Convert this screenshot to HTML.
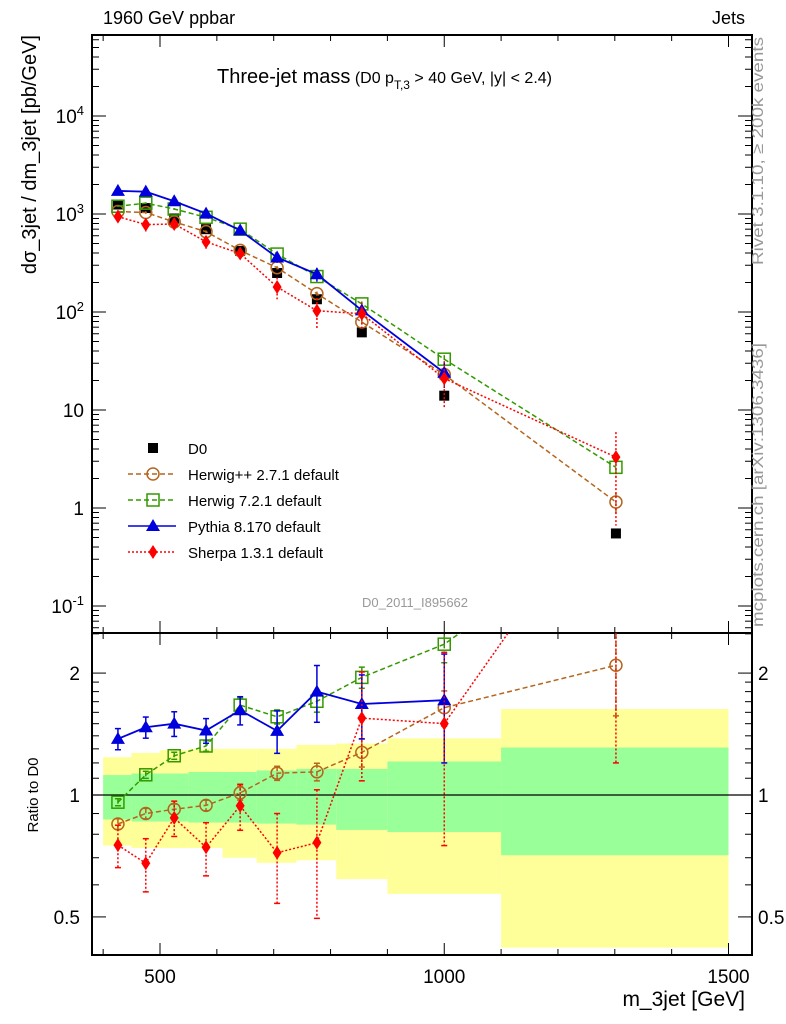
<!DOCTYPE html>
<html><head><meta charset="utf-8"><style>
body{margin:0;background:#fff}
svg{display:block;font-family:"Liberation Sans",sans-serif}
</style></head><body>
<svg id="c" width="786" height="1024" xmlns="http://www.w3.org/2000/svg"></svg>
<script>
const binEdges=[400,450,500,550,610,670,740,810,900,1100,1500];
const xPoints=[426,475,525,581,641,706,776,855,1000,1302];
const d0Vals=[1250,1150,900,700,420,250,135,62,14,0.55];
const herwigppVals=[1060,1035,830,660,425,283,154,79,23,1.15];
const herwigppErr=[0.03,0.03,0.03,0.03,0.04,0.04,0.05,0.08,0.1,0.25];
const herwig7Vals=[1200,1290,1125,925,700,390,230,121,33,2.6];
const herwig7Err=[0.02,0.02,0.02,0.03,0.04,0.04,0.06,0.06,0.1,0.2];
const pythiaVals=[1720,1690,1350,1010,680,360,243,104,24];
const pythiaErr=[0.06,0.06,0.07,0.07,0.08,0.12,0.16,0.18,0.3];
const sherpaVals=[940,780,790,520,395,180,103,96,21,3.3];
const sherpaErr=[0.12,0.15,0.1,0.15,0.13,0.25,0.35,0.3,0.5,0.8];
const yellowHi=[1.24,1.27,1.29,1.3,1.3,1.3,1.33,1.34,1.38,1.63];
const yellowLo=[0.75,0.74,0.74,0.74,0.70,0.68,0.69,0.62,0.57,0.42];
const greenHi=[1.12,1.13,1.13,1.14,1.14,1.15,1.16,1.16,1.21,1.31];
const greenLo=[0.87,0.86,0.86,0.855,0.855,0.85,0.845,0.82,0.81,0.71];
const xTicks=[500,1000,1500];
const mainTicks=[4,3,2,1,0,-1];
const ratioTicks=[0.5,1,2];

const S=document.getElementById('c');const NS='http://www.w3.org/2000/svg';
function el(t,a,p){const e=document.createElementNS(NS,t);for(const k in a)e.setAttribute(k,a[k]);(p||S).appendChild(e);return e;}
const L=92,R=752,T=35,MB=633,RB=955;
const X=m=>160+(m-500)*0.5685;
const Y=v=>508-98*Math.log10(v);
const YR=r=>795-405*Math.log10(r);
const clipM=el('clipPath',{id:'cm'});el('rect',{x:L,y:T,width:R-L,height:MB-T},clipM);
const clipR=el('clipPath',{id:'cr'});el('rect',{x:L,y:MB,width:R-L,height:RB-MB},clipR);

const bands=el('g',{'clip-path':'url(#cr)'});

for(let i=0;i<binEdges.length-1;i++){
 const x0=X(binEdges[i]),x1=X(binEdges[i+1]);
 const y=el('rect',{x:x0,y:YR(yellowHi[i]),width:x1-x0,height:YR(yellowLo[i])-YR(yellowHi[i]),fill:'#ffff99'},bands);
 
 const g=el('rect',{x:x0,y:YR(greenHi[i]),width:x1-x0,height:YR(greenLo[i])-YR(greenHi[i]),fill:'#99ff99'},bands);
 
}
el('line',{x1:L,x2:R,y1:YR(1),y2:YR(1),stroke:'#000','stroke-width':1.2});

el('rect',{x:L,y:T,width:R-L,height:MB-T,fill:'none',stroke:'#000','stroke-width':2});
el('rect',{x:L,y:MB,width:R-L,height:RB-MB,fill:'none',stroke:'#000','stroke-width':2});

function txt(s,x,y,a,p){const t=el('text',Object.assign({x:x,y:y,'font-size':17},a||{}),p);t.textContent=s;return t;}
for(let m=400;m<=1500;m+=100){const big=m%500==0,len=big?12:6;
 for(const [yb,yt] of [[MB,T],[RB,MB]]){el('line',{x1:X(m),x2:X(m),y1:yb,y2:yb-len,stroke:'#000'});el('line',{x1:X(m),x2:X(m),y1:yt,y2:yt+len,stroke:'#000'});}}
xTicks.forEach(m=>{const t=txt(m,X(m),983,{'text-anchor':'middle','font-size':19});});
for(let d=-2;d<=4;d++)for(let k=1;k<10;k++){const v=k*Math.pow(10,d);const y=Y(v);if(y<T||y>MB)continue;const len=k==1?14:7;
 el('line',{x1:L,x2:L+len,y1:y,y2:y,stroke:'#000'});el('line',{x1:R,x2:R-len,y1:y,y2:y,stroke:'#000'});}
mainTicks.forEach(d=>{const y=Y(Math.pow(10,d));let t;
 if(d==1)t=txt('10',84,y+7,{'text-anchor':'end','font-size':19});
 else if(d==0)t=txt('1',84,y+7,{'text-anchor':'end','font-size':19});
 else{t=el('text',{x:84,y:y+7,'text-anchor':'end','font-size':19});t.innerHTML='10<tspan font-size="13" dy="-8">'+d+'</tspan>';}
 });
[0.4,0.5,0.6,0.7,0.8,0.9,1,1.1,1.2,1.3,1.4,1.5,1.6,1.7,1.8,1.9,2,2.5].forEach(r=>{const y=YR(r);if(y<MB||y>RB)return;const len=[0.5,1,2].includes(r)?14:7;
 el('line',{x1:L,x2:L+len,y1:y,y2:y,stroke:'#000'});el('line',{x1:R,x2:R-len,y1:y,y2:y,stroke:'#000'});});
ratioTicks.forEach(r=>{const y=YR(r)+7;
 const a=txt(r,80,y,{'text-anchor':'end','font-size':19});
 const b=txt(r,758,y,{'font-size':19});});

function marker(kind,x,y,col,p){
 if(kind=='sq')return el('rect',{x:x-5,y:y-5,width:10,height:10,fill:'#000'},p);
 if(kind=='osq')return el('rect',{x:x-6,y:y-6,width:12,height:12,fill:'none',stroke:col,'stroke-width':1.5},p);
 if(kind=='oc')return el('circle',{cx:x,cy:y,r:6,fill:'none',stroke:col,'stroke-width':1.5},p);
 if(kind=='tri')return el('path',{d:`M${x} ${y-7}L${x+7} ${y+5}L${x-7} ${y+5}Z`,fill:col},p);
 if(kind=='dia')return el('path',{d:`M${x} ${y-7}L${x+4.5} ${y}L${x} ${y+7}L${x-4.5} ${y}Z`,fill:col},p);
}
const series=[
 {n:'herwigpp',v:herwigppVals,e:herwigppErr,c:'#b5651d',k:'oc',d:'5,3',w:1.5,lab:'Herwig++ 2.7.1 default'},
 {n:'herwig7',v:herwig7Vals,e:herwig7Err,c:'#339900',k:'osq',d:'5,3',w:1.5,lab:'Herwig 7.2.1 default'},
 {n:'pythia',v:pythiaVals,e:pythiaErr,c:'#0000dd',k:'tri',d:'',w:1.8,lab:'Pythia 8.170 default'},
 {n:'sherpa',v:sherpaVals,e:sherpaErr,c:'#ff0000',k:'dia',d:'2,2',w:1.5,lab:'Sherpa 1.3.1 default'}];

const dg=el('g',{'clip-path':'url(#cm)'});
d0Vals.forEach((v,i)=>{const m=marker('sq',X(xPoints[i]),Y(v),'#000',dg);});

series.forEach(s=>{
 const gm=el('g',{'clip-path':'url(#cm)'});
 const gr=el('g',{'clip-path':'url(#cr)'});
 const pm=s.v.map((v,i)=>X(xPoints[i])+','+Y(v)).join(' ');
 const pr=s.v.map((v,i)=>X(xPoints[i])+','+YR(v/d0Vals[i])).join(' ');
 const a={fill:'none',stroke:s.c,'stroke-width':s.w};if(s.d)a['stroke-dasharray']=s.d;
 el('polyline',Object.assign({points:pm},a),gm);el('polyline',Object.assign({points:pr},a),gr);
 s.v.forEach((v,i)=>{const x=X(xPoints[i]);const r=v/d0Vals[i];
  const ea={stroke:s.c,'stroke-width':1.5};if(s.d)ea['stroke-dasharray']=s.d;
  el('line',Object.assign({x1:x,x2:x,y1:Y(v*(1+s.e[i])),y2:Y(v*Math.max(0.05,1-s.e[i]))},ea),gm);
  el('line',Object.assign({x1:x,x2:x,y1:YR(r*(1+s.e[i])),y2:YR(r*Math.max(0.05,1-s.e[i]))},ea),gr);
  el('line',{x1:x-3,x2:x+3,y1:YR(r*(1+s.e[i])),y2:YR(r*(1+s.e[i])),stroke:s.c,'stroke-width':1.5},gr);
  el('line',{x1:x-3,x2:x+3,y1:YR(r*(1-s.e[i])),y2:YR(r*(1-s.e[i])),stroke:s.c,'stroke-width':1.5},gr);
  const m1=marker(s.k,x,Y(v),s.c,gm);
  const m2=marker(s.k,x,YR(r),s.c,gr);
 });
});

const lg=el('g',{});
marker('sq',153,448,'#000',lg);txt('D0',188,454,{'font-size':15},lg);
series.forEach((s,i)=>{const y=474+26*i;const a={stroke:s.c,'stroke-width':1.5};if(s.d)a['stroke-dasharray']=s.d;
 el('line',Object.assign({x1:128,x2:176,y1:y,y2:y},a),lg);marker(s.k,153,y,s.c,lg);
 const t=txt(s.lab,188,y+6,{'font-size':15},lg);});

let t;
t=txt('1960 GeV ppbar',103,24,{'font-size':18});
t=txt('Jets',745,24,{'font-size':18,'text-anchor':'end'});
t=el('text',{x:217,y:83,'font-size':20});t.innerHTML='Three-jet mass<tspan font-size="16"> (D0 p</tspan><tspan font-size="12" dy="6">T,3</tspan><tspan font-size="16" dy="-6"> &gt; 40 GeV, |y| &lt; 2.4)</tspan>';

t=txt('D0_2011_I895662',415,607,{'font-size':13,fill:'#999','text-anchor':'middle'});
t=txt('dσ_3jet / dm_3jet [pb/GeV]',0,0,{'font-size':20,'text-anchor':'end',transform:'translate(36,35) rotate(-90)'});
t=txt('Ratio to D0',0,0,{'font-size':15,'text-anchor':'middle',transform:'translate(38,795) rotate(-90)'});
t=txt('m_3jet [GeV]',745,1006,{'font-size':21,'text-anchor':'end'});
t=txt('Rivet 3.1.10, ≥ 200k events',0,0,{'font-size':16,fill:'#999','text-anchor':'end',textLength:228,lengthAdjust:'spacingAndGlyphs',transform:'translate(763,37) rotate(-90)'});
t=txt('mcplots.cern.ch [arXiv:1306.3436]',0,0,{'font-size':16,fill:'#999','text-anchor':'end',textLength:284,lengthAdjust:'spacingAndGlyphs',transform:'translate(763,343) rotate(-90)'});
</script></body></html>
